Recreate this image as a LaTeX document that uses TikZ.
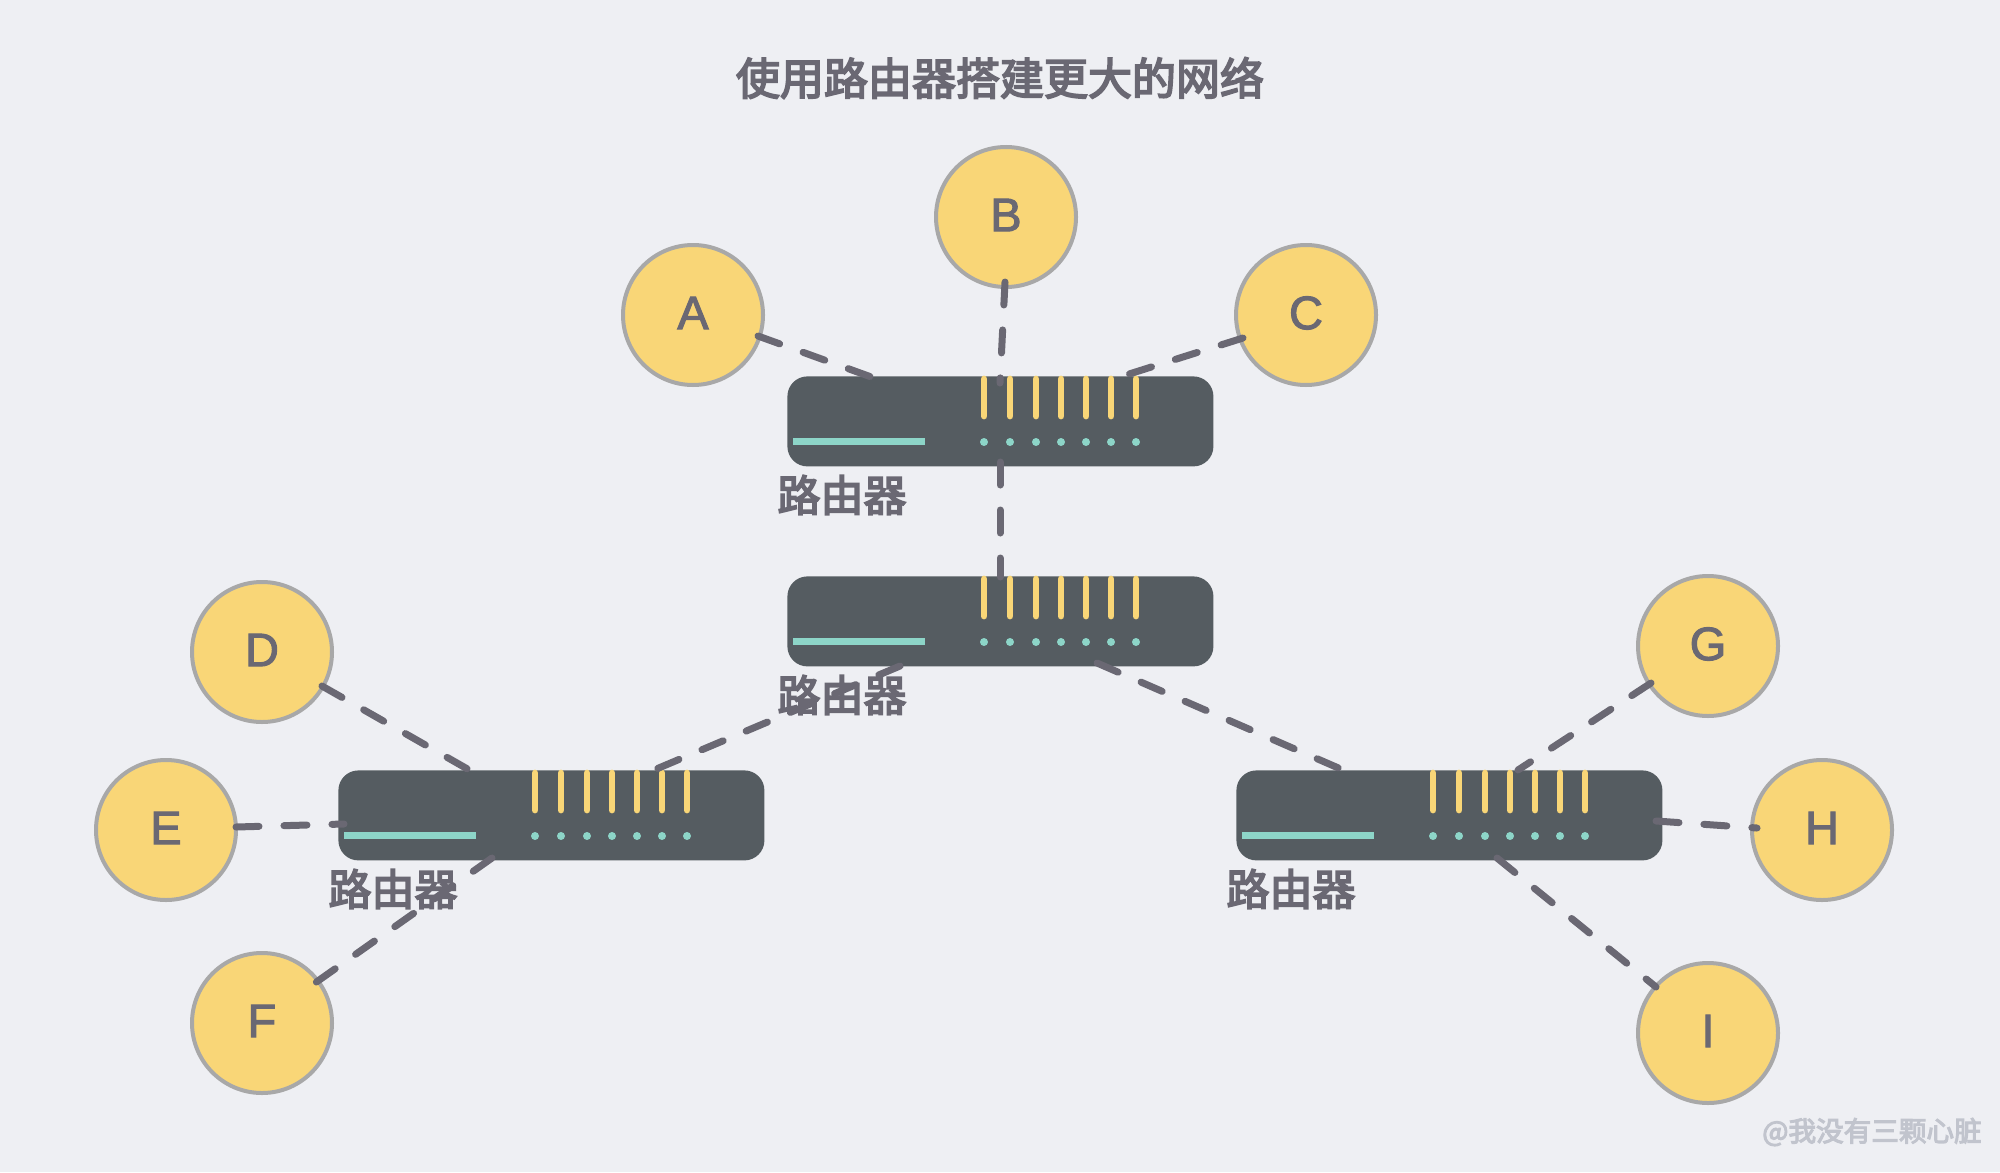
\documentclass[tikz,border=0pt]{standalone}
\usepackage{fontspec}
\setmainfont{Liberation Sans}[FakeBold=2.2]
\newfontfamily\cjk{Noto Sans CJK SC}[FakeBold=4]
\definecolor{bgc}{HTML}{EEEFF3}
\definecolor{routerc}{HTML}{555C61}
\definecolor{yellowc}{HTML}{F9D677}
\definecolor{tealc}{HTML}{8DD5C8}
\definecolor{ringc}{HTML}{A8A8A8}
\definecolor{inkc}{HTML}{6A6873}
\definecolor{markc}{HTML}{C1C4CD}
\tikzset{
  hostnode/.style={circle,draw=ringc,fill=yellowc,line width=2pt,minimum size=70pt,inner sep=0pt,text=inkc},
  hostletter/.style={text=inkc,inner sep=0pt,font=\fontsize{23.5pt}{26pt}\selectfont},
  routernode/.style={rectangle,fill=routerc,rounded corners=10pt,minimum width=213pt,minimum height=45pt,inner sep=0pt,anchor=north west},
  routerlabel/.style={text=inkc,inner sep=0pt,font=\cjk\fontsize{21.5pt}{24pt}\selectfont},
  titletext/.style={text=inkc,inner sep=0pt,font=\cjk\fontsize{22pt}{25pt}\selectfont},
  marktext/.style={text=markc,inner sep=0pt,font=\cjk\fontsize{13.8pt}{16pt}\selectfont},
  link/.style={draw=inkc,line width=3.5pt,line cap=round,dash pattern=on 11.5pt off 12.5pt},
  bar/.style={draw=yellowc,line width=3.4pt,line cap=round},
}
\newcommand{\routerat}[3]{%
  \node[routernode] (#1) at (#2,#3) {};
  \foreach \dx in {197,223,249,274,299,324,349}{
    \draw[bar] (#2+\dx,#3+3) -- (#2+\dx,#3+40);
    \fill[tealc] (#2+\dx,#3+66) circle[radius=2pt];
  }
  \fill[tealc] (#2+6,#3+62) rectangle (#2+138,#3+69);
  \node[routerlabel] (#1label) at (#2+55,#3+119) {路由器};
}
\newcommand{\hostat}[3]{%
  \node[hostnode] (#1) at (#2,#3+1) {};
  \node[hostletter] (#1letter) at (#2,#3-1) {#1};
}
\begin{document}
\begin{tikzpicture}[x=0.5pt,y=-0.5pt]
\fill[bgc] (0,0) rectangle (2000,1172);
\node[titletext] (title) at (1000,78) {使用路由器搭建更大的网络};
\routerat{R1}{787}{376}
\routerat{R2}{787}{576}
\routerat{R3}{338}{770}
\routerat{R4}{1236}{770}
\hostat{A}{693}{314}
\hostat{B}{1006}{216}
\hostat{C}{1306}{314}
\hostat{D}{262}{651}
\hostat{E}{166}{829}
\hostat{F}{262}{1022}
\hostat{G}{1708}{645}
\hostat{H}{1822}{829}
\hostat{I}{1708}{1032}
\coordinate (Aout) at (758,336);  \coordinate (R1a) at (874,378);
\coordinate (Bout) at (1005,282); \coordinate (R1b) at (1000,383);
\coordinate (Cout) at (1243,338); \coordinate (R1c) at (1126,375);
\coordinate (R1s) at (1000,462);  \coordinate (R2n) at (1000,577);
\coordinate (R2l) at (900,666);   \coordinate (R3n) at (654,770);
\coordinate (R2r) at (1097,663);  \coordinate (R4n) at (1343,770);
\coordinate (Dout) at (322,686);  \coordinate (R3d) at (471,771);
\coordinate (Eout) at (236,827);  \coordinate (R3e) at (344,824);
\coordinate (R3f) at (492,858);   \coordinate (Fout) at (315,983);
\coordinate (Gout) at (1651,683); \coordinate (R4g) at (1518,770);
\coordinate (R4h) at (1656,821);  \coordinate (Hout) at (1757,828);
\coordinate (R4i) at (1497,858);  \coordinate (Iout) at (1656,987);
\draw[link] (Aout) -- (R1a);
\draw[link] (Bout) -- (R1b);
\draw[link] (Cout) -- (R1c);
\draw[link] (R1s) -- (R2n);
\draw[link] (R2l) -- (R3n);
\draw[link] (R2r) -- (R4n);
\draw[link] (Dout) -- (R3d);
\draw[link] (Eout) -- (R3e);
\draw[link] (R3f) -- (Fout);
\draw[link] (Gout) -- (R4g);
\draw[link] (R4h) -- (Hout);
\draw[link] (R4i) -- (Iout);
\node[marktext] (mark) at (1872,1132) {@我没有三颗心脏};
\end{tikzpicture}
\end{document}
